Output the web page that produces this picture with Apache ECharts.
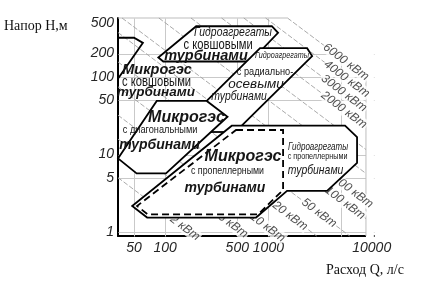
<!DOCTYPE html>
<html><head><meta charset="utf-8">
<script src="https://cdn.jsdelivr.net/npm/echarts@6/dist/echarts.min.js"></script>
<style>html,body{margin:0;padding:0;background:#fff}#c{width:430px;height:283px}</style>
</head><body><div id="c"></div>
<script>
// ---------- data (Q in l/s, H in m) ----------
const xTickLabels = [50, 100, 500, 1000, 5000, 10000];
const yTickLabels = [1, 5, 10, 50, 100, 200, 500];
const xGridValues = [50, 100, 500, 1000, 5000];
const yGridValues = [1, 5, 10, 50, 100, 200];
const qRange = [35, 10500];
const hRange = [0.89, 575];
const diagramQmax = 8800;

const microPeltonPts = [[35,320],[50,320],[61,275],[35.4,97]];
const peltonUnitPts = [[200,450],[1080,450],[1240,370],[670,158],[96,158],[86,178]];
const francisUnitPts = [[253,49],[830,235],[2370,235],[2650,186],[552,23.5]];
const francisStubPts = [[278,19.5],[371,19.5]];
const francisAreaPts = [[253,49],[830,235],[2370,235],[2650,186],[552,23.5],[371,19.5],[278,19.5],[402,30.7]];
const microDiagonalPts = [[35,8.9],[83,49],[253,49],[402,30.7],[102,5.7],[53,5.7]];
const propellerUnitPts = [[442,23.5],[5520,23.5],[7215,16.8],[7215,7.8],[3700,3.4],[1515,3.4],[760,1.54],[67,1.54],[48,2.17]];
const microPropellerPts = [[486,20.7],[1387,20.7],[1387,3.49],[794,1.69],[68,1.69],[53.5,2.17]];

const powerKW = [6000,4000,3000,2000,1000,500,200,100,50,20,10,5,2];
const powerStart = [[1530,575],[940,575],[578,575],[352,575],[178,575],[87,575],[38.3,575],[35,374],[35,156],[35,74.6],[35,32.1],[35,15.8],[35,5.03]];
const powerEnd = [[8800,100],[8800,61.3],[8800,37.8],[8800,23],[8800,11.6],[8800,5.7],[8800,2.5],[8800,1.49],[6130,0.89],[2935,0.89],[1264,0.89],[622,0.89],[198,0.89]];
const powerLabelAt = [[5645,156],[5735,94.1],[5401,61.6],[5401,37.5],null,null,[6599,3.34],[5523,2.37],[3094,1.76],[1620,1.61],[981,1.15],[455,1.22],[156,1.13]];

const regionLabels = ['Микрогэс','с ковшовыми','турбинами','Гидроагрегаты','с ковшовыми','турбинами','Гидроагрегаты','с радиально-','осевыми','турбинами','Микрогэс','с диагональными','турбинами','Микрогэс','с пропеллерными','турбинами','Гидроагрегаты','с пропеллерными','турбинами'];
const regionLabelQ = [83.6,82.7,81.7,455,326,249,1356,928,760,520,161,89.4,88.4,568,402,380,3025,2991,2861];
const regionLabelH = [122.9,86.9,63,372,258,186,188,116,80,56,29.6,20.7,13.1,9.43,6.13,3.7,12.5,9.43,6.32];

// ---------- styles ----------
const SANS = '"Liberation Sans", Arial, sans-serif';
const SERIF = '"Liberation Serif", "Times New Roman", serif';
const TXT = '#161616';
const bold = s => ({weight: 'bold', style: 'italic', size: s, sx: 1});
const narrow = s => ({weight: 'normal', style: 'normal', size: s, sx: 0.8});
const narrowIt = s => ({weight: 'normal', style: 'italic', size: s, sx: 0.8});
const ital = s => ({weight: 'normal', style: 'italic', size: s, sx: 1});
const regionLabelStyles = [bold(14.5), narrow(14), bold(13.5), narrowIt(13), narrow(14), bold(14.5),
  narrowIt(9), narrow(11.5), ital(13.5), narrowIt(13), bold(16), narrow(11.5), bold(14),
  bold(16), narrow(11), bold(14), narrowIt(10), narrow(9), narrowIt(13)];

const lg = v => Math.log10(v);
const P = p => [lg(p[0]), lg(p[1])];
const X0 = lg(qRange[0]), X1 = lg(qRange[1]), Y0 = lg(hRange[0]), Y1 = lg(hRange[1]);

function shape(pts, o) {
  o = o || {};
  return {
    type: 'custom', coordinateSystem: 'cartesian2d', z: o.z || 5, silent: true, clip: false, animation: false,
    data: [P(pts[0])],
    renderItem: (params, api) => ({
      type: o.open ? 'polyline' : 'polygon',
      shape: {points: pts.map(p => api.coord(P(p)))},
      style: {fill: o.fill || 'none', stroke: o.stroke || 'none', lineWidth: o.width || 1.8,
        lineDash: o.dash || null, lineJoin: 'miter'}
    })
  };
}

const series = [];
// grid lines
series.push({
  type: 'custom', coordinateSystem: 'cartesian2d', z: 1, silent: true, clip: false, animation: false,
  data: xGridValues.map(q => [lg(q), Y0, 0]).concat(yGridValues.map(h => [X0, lg(h), 1])),
  renderItem: (params, api) => {
    let a, b;
    if (api.value(2) === 0) { a = api.coord([api.value(0), Y0]); b = api.coord([api.value(0), Y1]); }
    else { a = api.coord([X0, api.value(1)]); b = api.coord([X1, api.value(1)]); }
    const r = v => Math.round(v) + 0.5;
    return {type: 'line', shape: {x1: r(a[0]), y1: r(a[1]), x2: r(b[0]), y2: r(b[1])},
      style: {stroke: '#c9c9c9', lineWidth: 1}};
  }
});
// mask of the empty corner
series.push(shape([[powerStart[0][0], hRange[1]], [qRange[1], hRange[1]], [qRange[1], 0.85], [diagramQmax, 0.85], [diagramQmax, powerEnd[0][1]]],
  {fill: '#fff', z: 2}));
// diagram border (top and right)
series.push(shape([[qRange[0], hRange[1]], [powerStart[0][0], hRange[1]]], {open: true, stroke: '#bdbdbd', width: 1, z: 3}));
series.push(shape([[diagramQmax, powerEnd[0][1]], [diagramQmax, hRange[0]]], {open: true, stroke: '#bdbdbd', width: 1, z: 3}));
// power lines
series.push({
  type: 'custom', coordinateSystem: 'cartesian2d', z: 3, silent: true, clip: false, animation: false,
  encode: {x: [0, 2], y: [1, 3]},
  data: powerKW.map((p, i) => P(powerStart[i]).concat(P(powerEnd[i]))),
  renderItem: (params, api) => {
    const a = api.coord([api.value(0), api.value(1)]), b = api.coord([api.value(2), api.value(3)]);
    return {type: 'line', shape: {x1: a[0], y1: a[1], x2: b[0], y2: b[1]},
      style: {stroke: '#a0a0a0', lineWidth: 0.9, lineDash: [5, 2]}};
  }
});
// power labels
series.push({
  type: 'scatter', z: 4, silent: true, animation: false, symbolSize: 1,
  itemStyle: {color: 'transparent'},
  data: powerKW.map((p, i) => powerLabelAt[i] ? {value: P(powerLabelAt[i]), name: p + ' кВт'} : null).filter(Boolean),
  label: {show: true, position: 'inside', formatter: '{b}', rotate: -37, fontFamily: SANS, fontStyle: 'italic',
    fontSize: 12, color: '#1e1e1e', backgroundColor: '#fff', padding: [0, 1]}
});
// regions
series.push(shape(microPeltonPts, {open: true, stroke: '#000', z: 5}));
series.push(shape(peltonUnitPts, {fill: '#fff', stroke: '#000', z: 5}));
series.push(shape(francisAreaPts, {fill: '#fff', z: 5}));
series.push(shape(francisUnitPts, {open: true, stroke: '#000', z: 6}));
series.push(shape(francisStubPts, {open: true, stroke: '#000', z: 6}));
series.push(shape(microDiagonalPts, {fill: '#fff', stroke: '#000', z: 6}));
series.push(shape(propellerUnitPts, {fill: '#fff', stroke: '#000', z: 6}));
series.push(shape(microPropellerPts, {stroke: '#000', dash: [7, 4], z: 7}));
// region texts (narrow lettering emulated by horizontal scaling)
series.push({
  type: 'custom', coordinateSystem: 'cartesian2d', z: 8, silent: true, clip: false, animation: false,
  data: regionLabels.map((t, i) => [lg(regionLabelQ[i]), lg(regionLabelH[i]), i]),
  renderItem: (params, api) => {
    const i = api.value(2);
    const s = regionLabelStyles[i];
    const c = api.coord([api.value(0), api.value(1)]);
    return {type: 'text', x: c[0], y: c[1], scaleX: s.sx, scaleY: 1,
      style: {text: regionLabels[i], fontFamily: SANS, fontSize: s.size, fontWeight: s.weight,
        fontStyle: s.style, fill: TXT, align: 'center', verticalAlign: 'middle'}};
  }
});

const chart = echarts.init(document.getElementById('c'), null, {renderer: 'canvas'});
const plotWidth = (X1 - X0) * 103.3;
chart.setOption({
  animation: false,
  backgroundColor: '#fff',
  grid: {left: 118, right: 430 - 118 - plotWidth, top: 18, bottom: 47, containLabel: false, outerBoundsMode: 'none'},
  xAxis: {
    type: 'value', min: X0, max: X1,
    axisLine: {show: true, onZero: false, lineStyle: {color: '#000', width: 2}},
    axisTick: {show: false, customValues: xTickLabels.map(lg)},
    splitLine: {show: false},
    axisLabel: {customValues: xTickLabels.map(lg), formatter: v => String(Math.round(Math.pow(10, v))),
      fontFamily: SANS, fontStyle: 'italic', fontSize: 14, color: '#262626', margin: 5,
      showMinLabel: true, showMaxLabel: true}
  },
  yAxis: {
    type: 'value', min: Y0, max: Y1,
    axisLine: {show: true, onZero: false, lineStyle: {color: '#000', width: 2}},
    axisTick: {show: false, customValues: yTickLabels.map(lg)},
    splitLine: {show: false},
    axisLabel: {customValues: yTickLabels.map(lg), formatter: v => String(Math.round(Math.pow(10, v))),
      fontFamily: SANS, fontStyle: 'italic', fontSize: 14, color: '#262626', margin: 4}
  },
  graphic: [
    {type: 'text', left: 4, top: 19, style: {text: 'Напор Н,м', font: '14px ' + SERIF, fill: '#111'}},
    {type: 'text', left: 326, top: 263, style: {text: 'Расход Q, л/с', font: '14px ' + SERIF, fill: '#111'}}
  ],
  series: series
});
</script>
</body></html>
